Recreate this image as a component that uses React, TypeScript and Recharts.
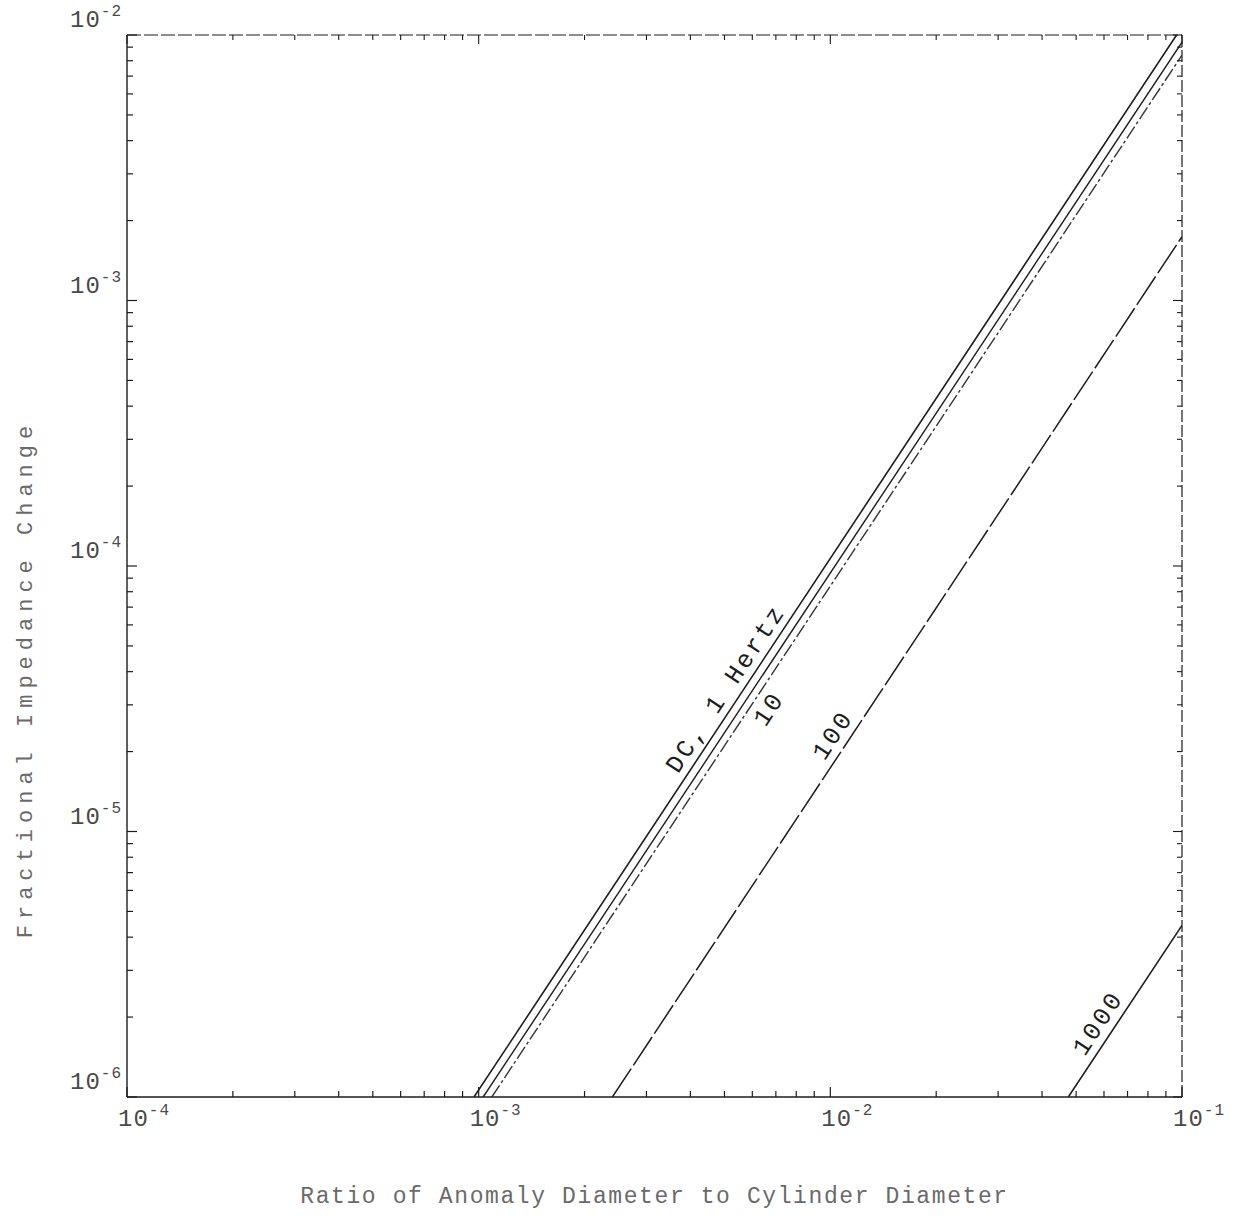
import React from "react";
import {
  LineChart,
  Line,
  XAxis,
  YAxis,
  ReferenceDot,
} from "recharts";

// decade ticks and their exponent labels
const xMajor = [0.0001, 0.001, 0.01, 0.1];
const xMajorLabels = ["-4", "-3", "-2", "-1"];
const yMajor = [0.000001, 0.00001, 0.0001, 0.001, 0.01];
const yMajorLabels = ["-6", "-5", "-4", "-3", "-2"];

const xMinor = [
  0.0002, 0.0003, 0.0004, 0.0005, 0.0006, 0.0007, 0.0008, 0.0009,
  0.002, 0.003, 0.004, 0.005, 0.006, 0.007, 0.008, 0.009,
  0.02, 0.03, 0.04, 0.05, 0.06, 0.07, 0.08, 0.09,
];
const yMinor = [
  0.000002, 0.000003, 0.000004, 0.000005, 0.000006, 0.000007, 0.000008, 0.000009,
  0.00002, 0.00003, 0.00004, 0.00005, 0.00006, 0.00007, 0.00008, 0.00009,
  0.0002, 0.0003, 0.0004, 0.0005, 0.0006, 0.0007, 0.0008, 0.0009,
  0.002, 0.003, 0.004, 0.005, 0.006, 0.007, 0.008, 0.009,
];

// curves (ratio, fractional change)
const dcHertz = [
  { x: 0.00097, y: 0.000001 },
  { x: 0.0965, y: 0.01 },
];
const curveB = [
  { x: 0.00103, y: 0.000001 },
  { x: 0.1, y: 0.0094 },
];
const hertz10 = [
  { x: 0.00109, y: 0.000001 },
  { x: 0.1, y: 0.0084 },
];
const hertz100 = [
  { x: 0.0024, y: 0.000001 },
  { x: 0.1, y: 0.00174 },
];
const hertz1000 = [
  { x: 0.0475, y: 0.000001 },
  { x: 0.1, y: 0.00000443 },
];

// where the curve names sit (on their curve)
const dcLabelAt = { x: 0.0055, y: 0.000032 };
const tenLabelAt = { x: 0.0062, y: 0.000031 };
const hundredLabelAt = { x: 0.0111, y: 0.0000214 };
const thousandLabelAt = { x: 0.063, y: 0.00000176 };

const W = 1234;
const H = 1218;
const FONT = "'Liberation Mono', 'DejaVu Sans Mono', monospace";
const INK = "#1c1c1c";
const TEXT = "#4a4a4a";
const TITLE = "#6a6a6a";

const xTicks = [...xMajor, ...xMinor].sort((a, b) => a - b);
const yTicks = [...yMajor, ...yMinor].sort((a, b) => a - b);

function majorIndex(v: number, majors: number[]) {
  return majors.findIndex((m) => Math.abs(Math.log10(m) - Math.log10(v)) < 1e-6);
}

function Pow({ x, y, exp }: { x: number; y: number; exp: string }) {
  return (
    <text x={x} y={y} fontFamily={FONT} fontSize={24} letterSpacing={1} fill={TEXT} textAnchor="start">
      10
      <tspan dy={-11} fontSize={16}>
        {exp}
      </tspan>
    </text>
  );
}

function BottomTick(props: any) {
  const { x, y, payload } = props;
  const i = majorIndex(payload.value, xMajor);
  const len = i >= 0 ? 10 : 6;
  return (
    <g>
      <line x1={x} x2={x} y1={y} y2={y - len} stroke={INK} strokeWidth={1.2} />
      {i >= 0 && <Pow x={x - 9} y={y + 29} exp={xMajorLabels[i]} />}
    </g>
  );
}

function TopTick(props: any) {
  const { x, y, payload } = props;
  const i = majorIndex(payload.value, xMajor);
  const len = i >= 0 ? 9 : 5;
  return <line x1={x} x2={x} y1={y} y2={y + len} stroke={INK} strokeWidth={1.1} />;
}

function LeftTick(props: any) {
  const { x, y, payload } = props;
  const i = majorIndex(payload.value, yMajor);
  const len = i >= 0 ? 10 : 6;
  return (
    <g>
      <line x1={x} x2={x + len} y1={y} y2={y} stroke={INK} strokeWidth={1.2} />
      {i >= 0 && <Pow x={x - 57} y={y - 8} exp={yMajorLabels[i]} />}
    </g>
  );
}

function RightTick(props: any) {
  const { x, y, payload } = props;
  const i = majorIndex(payload.value, yMajor);
  const len = i >= 0 ? 9 : 5;
  return <line x1={x} x2={x - len} y1={y} y2={y} stroke={INK} strokeWidth={1.1} />;
}

// text rotated along the curves; offset > 0 moves it up-left of the curve
const ANGLE = 56.5;
function curveLabel(text: string, offset: number) {
  return (props: any) => {
    const vb = props.viewBox || {};
    const rad = (ANGLE * Math.PI) / 180;
    const cx = (vb.x ?? 0) + (vb.width ?? 0) / 2 - Math.sin(rad) * offset;
    const cy = (vb.y ?? 0) + (vb.height ?? 0) / 2 - Math.cos(rad) * offset;
    return (
      <text
        x={cx}
        y={cy}
        fontFamily={FONT}
        fontSize={25}
        letterSpacing={2.8}
        fill={INK}
        textAnchor="middle"
        dominantBaseline="middle"
        transform={`rotate(-${ANGLE} ${cx} ${cy})`}
      >
        {text}
      </text>
    );
  };
}

function XTitle(props: any) {
  const vb = props.viewBox || {};
  return (
    <text
      x={vb.x + vb.width / 2}
      y={vb.y + 106}
      fontFamily={FONT}
      fontSize={23}
      letterSpacing={1.6}
      fill={TITLE}
      textAnchor="middle"
    >
      Ratio of Anomaly Diameter to Cylinder Diameter
    </text>
  );
}

function YTitle() {
  return (
    <text
      x={32}
      y={679}
      fontFamily={FONT}
      fontSize={22}
      letterSpacing={6}
      fill={TITLE}
      textAnchor="middle"
      transform="rotate(-90 32 679)"
    >
      Fractional Impedance Change
    </text>
  );
}

export default function App() {
  return (
    <div style={{ position: "absolute", left: 0, top: 0, width: W, height: H, background: "#fff" }}>
      <LineChart width={W} height={H} margin={{ top: 25, right: 42, bottom: 81, left: 67 }}>
        <XAxis
          xAxisId="b"
          dataKey="x"
          type="number"
          scale="log"
          domain={[0.0001, 0.1]}
          allowDataOverflow
          ticks={xTicks}
          interval={0}
          tick={<BottomTick />}
          tickSize={0}
          tickMargin={0}
          height={40}
          axisLine={{ stroke: INK, strokeWidth: 1.4 }}
          label={{ content: <XTitle /> }}
        />
        <XAxis
          xAxisId="t"
          orientation="top"
          dataKey="x"
          type="number"
          scale="log"
          domain={[0.0001, 0.1]}
          allowDataOverflow
          ticks={xTicks}
          interval={0}
          tick={<TopTick />}
          tickSize={0}
          tickMargin={0}
          height={10}
          axisLine={{ stroke: INK, strokeWidth: 1.1, strokeDasharray: "14 3" }}
        />
        <YAxis
          yAxisId="l"
          dataKey="y"
          type="number"
          scale="log"
          domain={[0.000001, 0.01]}
          allowDataOverflow
          ticks={yTicks}
          interval={0}
          tick={<LeftTick />}
          tickSize={0}
          tickMargin={0}
          width={60}
          axisLine={{ stroke: INK, strokeWidth: 1.4 }}
          label={{ content: <YTitle /> }}
        />
        <YAxis
          yAxisId="r"
          orientation="right"
          dataKey="y"
          type="number"
          scale="log"
          domain={[0.000001, 0.01]}
          allowDataOverflow
          ticks={yTicks}
          interval={0}
          tick={<RightTick />}
          tickSize={0}
          tickMargin={0}
          width={10}
          axisLine={{ stroke: INK, strokeWidth: 1.2, strokeDasharray: "12 3" }}
        />
        <Line xAxisId="b" yAxisId="l" data={dcHertz} dataKey="y" type="linear" dot={false}
          stroke={INK} strokeWidth={1.6} isAnimationActive={false} />
        <Line xAxisId="b" yAxisId="l" data={curveB} dataKey="y" type="linear" dot={false}
          stroke={INK} strokeWidth={1.4} isAnimationActive={false} />
        <Line xAxisId="b" yAxisId="l" data={hertz10} dataKey="y" type="linear" dot={false}
          stroke="#333" strokeWidth={1.4} strokeDasharray="14 3 3 3" isAnimationActive={false} />
        <Line xAxisId="b" yAxisId="l" data={hertz100} dataKey="y" type="linear" dot={false}
          stroke={INK} strokeWidth={1.5} strokeDasharray="34 4" isAnimationActive={false} />
        <Line xAxisId="b" yAxisId="l" data={hertz1000} dataKey="y" type="linear" dot={false}
          stroke={INK} strokeWidth={1.6} isAnimationActive={false} />
        <ReferenceDot xAxisId="b" yAxisId="l" x={dcLabelAt.x} y={dcLabelAt.y} r={0} fill="none" stroke="none"
          label={curveLabel("DC, 1 Hertz", 15)} />
        <ReferenceDot xAxisId="b" yAxisId="l" x={tenLabelAt.x} y={tenLabelAt.y} r={0} fill="none" stroke="none"
          label={curveLabel("10", -15)} />
        <ReferenceDot xAxisId="b" yAxisId="l" x={hundredLabelAt.x} y={hundredLabelAt.y} r={0} fill="none" stroke="none"
          label={curveLabel("100", 15)} />
        <ReferenceDot xAxisId="b" yAxisId="l" x={thousandLabelAt.x} y={thousandLabelAt.y} r={0} fill="none" stroke="none"
          label={curveLabel("1000", 15)} />
      </LineChart>
    </div>
  );
}
